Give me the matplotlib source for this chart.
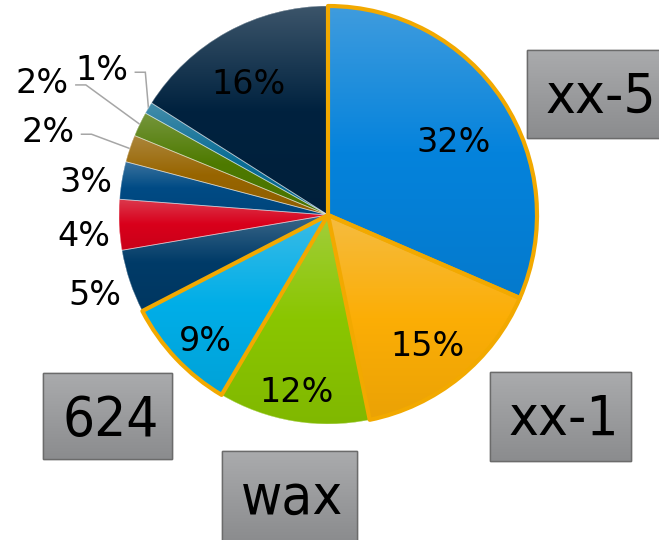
import numpy as np
import matplotlib
matplotlib.use("Agg")
import matplotlib.pyplot as plt
from matplotlib.patches import Wedge, Rectangle
from matplotlib.colors import to_rgb, LinearSegmentedColormap
from matplotlib import font_manager as fm

# ---------------- data ----------------
SHARES = [31.5, 15.3, 11.7, 8.9, 4.9, 3.9, 2.9, 2.1, 1.9, 0.9, 16.0]
COLORS = ['#0583dc', '#fcae06', '#8ac600', '#00aee8', '#003b68', '#d9001b',
          '#004b85', '#986500', '#4e7a00', '#0b6e96', '#00223f']
HIGHLIGHT = [True, True, False, True, False, False, False, False, False, False, False]
BOX_LABELS = ['xx-5', 'xx-1', 'wax', '624']

# ---------------- layout ----------------
W, H = 659, 540
CX, CY, R = 328, 540 - 215, 209
LABEL_R = [0.70, 0.78, 0.85, 0.835, 1.175, 1.17, 1.17, 1.40, 1.51, 1.29, 0.74]
LABEL_DA = [-2.5, -1.5, -0.5, 2.0, 0.0, 1.7, 1.3, 1.7, 0.6, -2.2, 2.0]
LEADER = [False] * 7 + [True, True, True, False]
# box rectangles (x, y, w, h) in pixel coordinates, y upwards
BOXES = [(527, 402, 141, 88), (490, 79, 141, 89), (222, -1, 135, 90), (43, 81, 129, 86)]
ORANGE = '#f2a900'

fig = plt.figure(figsize=(W / 100, H / 100), dpi=100)
ax = fig.add_axes([0, 0, 1, 1])

wedges, _ = ax.pie(SHARES, colors=COLORS, startangle=90, counterclock=False,
                   center=(CX, CY), radius=R, wedgeprops=dict(linewidth=0))
ax.set_xlim(0, W)
ax.set_ylim(0, H)
ax.set_aspect('auto')
ax.axis('off')


def mix(c, m, t):
    c = np.array(to_rgb(c)); m = np.array(to_rgb(m))
    return tuple(c * (1 - t) + m * t)


grad = np.linspace(0, 1, 256).reshape(-1, 1)
for w, col in zip(wedges, COLORS):
    ext = w.get_path().get_extents()
    light = mix(mix(col, '#ffffff', 0.2), '#a0a0a0', 0.08)
    dark = mix(col, '#000000', 0.07)
    cmap = LinearSegmentedColormap.from_list('g', [(0, light), (0.5, col), (1, dark)])
    im = ax.imshow(grad, cmap=cmap, extent=[ext.x0, ext.x1, ext.y0, ext.y1],
                   origin='upper', aspect='auto', interpolation='bilinear', zorder=2)
    im.set_clip_path(w)

for w, hl in zip(wedges, HIGHLIGHT):
    if not hl:
        ax.add_patch(Wedge((CX, CY), R, w.theta1, w.theta2, fill=False,
                           edgecolor=(1, 1, 1, 0.45), linewidth=0.6, zorder=3))
for w, hl in zip(wedges, HIGHLIGHT):
    if hl:
        ax.add_patch(Wedge((CX, CY), R, w.theta1, w.theta2, fill=False,
                           edgecolor=ORANGE, linewidth=3, zorder=4,
                           joinstyle='round'))

ax.set_xlim(0, W)
ax.set_ylim(0, H)

# ---------------- percentage labels ----------------
fs = 24
digit_h = 0.729 * fs * 100 / 72
fig.canvas.draw()
renderer = fig.canvas.get_renderer()
for w, v, lr, da, lead in zip(wedges, SHARES, LABEL_R, LABEL_DA, LEADER):
    midd = (w.theta1 + w.theta2) / 2
    mid = np.deg2rad(midd)
    ang = np.deg2rad(midd + da)
    tx = CX + lr * R * np.cos(ang)
    ty = CY + lr * R * np.sin(ang)
    t = ax.text(tx, ty - digit_h / 2, '%.0f%%' % v, ha='center', va='baseline',
                fontsize=fs, family='DejaVu Sans', color='#000000', zorder=6)
    if lead:
        bb = t.get_window_extent(renderer)
        x0 = bb.x1 + 7
        ly = ty - 4
        ax.plot([x0, x0 + 10, CX + R * np.cos(mid)], [ly, ly, CY + R * np.sin(mid)],
                color='#a6a6a6', linewidth=1.1, zorder=1, solid_joinstyle='miter')

# ---------------- category boxes ----------------
cond = None
for f in fm.fontManager.ttflist:
    fn = f.fname.lower()
    if 'dejavusanscondensed' in fn and 'bold' not in fn and 'oblique' not in fn:
        cond = f.fname
        break
if cond:
    box_fp = fm.FontProperties(fname=cond, size=40.5)
else:
    box_fp = fm.FontProperties(family='DejaVu Sans', size=37)

box_cmap = LinearSegmentedColormap.from_list('b', ['#aaabad', '#8b8c8e'])
for (bx, by, bw, bh), lab in zip(BOXES, BOX_LABELS):
    rect = Rectangle((bx, by), bw, bh, facecolor='#9c9d9f', edgecolor='#6b6b6b',
                     linewidth=1.0, zorder=5)
    ax.add_patch(rect)
    im = ax.imshow(grad, cmap=box_cmap, extent=[bx, bx + bw, by, by + bh],
                   origin='upper', aspect='auto', interpolation='bilinear', zorder=5.1)
    im.set_clip_path(rect)
    ax.add_patch(Rectangle((bx, by), bw, bh, fill=False, edgecolor='#6b6b6b',
                           linewidth=1.0, zorder=5.2))
    ax.text(bx + 19, by + bh - 63, lab, ha='left', va='baseline',
            fontproperties=box_fp, color='#000000', zorder=6)

ax.set_xlim(0, W)
ax.set_ylim(0, H)
fig.savefig('out.png', dpi=100)
